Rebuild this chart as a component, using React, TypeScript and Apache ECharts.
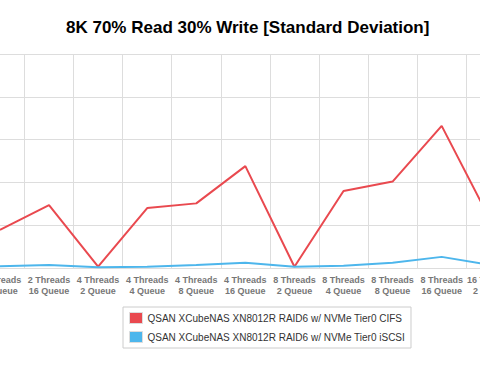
import React, { useEffect, useRef } from "react";
import * as echarts from "echarts";

const categories = [
  "2 Threads\n8 Queue",
  "2 Threads\n16 Queue",
  "4 Threads\n2 Queue",
  "4 Threads\n4 Queue",
  "4 Threads\n8 Queue",
  "4 Threads\n16 Queue",
  "8 Threads\n2 Queue",
  "8 Threads\n4 Queue",
  "8 Threads\n8 Queue",
  "8 Threads\n16 Queue",
  "16 Threads\n2 Queue",
];

const cifsValues = [0.89, 1.47, 0.03, 1.4, 1.51, 2.38, 0.03, 1.8, 2.02, 3.32, 1.1];
const iscsiValues = [0.04, 0.07, 0.02, 0.03, 0.07, 0.12, 0.03, 0.05, 0.12, 0.26, 0.07];

const seriesNames = [
  "QSAN XCubeNAS XN8012R RAID6 w/ NVMe Tier0 CIFS",
  "QSAN XCubeNAS XN8012R RAID6 w/ NVMe Tier0 iSCSI",
];

const titleText = "8K 70% Read 30% Write [Standard Deviation]";

const RED = "#e9494f";
const BLUE = "#4db6ec";
const FONT = "'Liberation Sans', Helvetica, Arial, sans-serif";

// chart canvas is wider than the visible window and shifted left by OFFSET
const OFFSET = 60;
const CHART_W = 600;
const CHART_H = 378;

export default function App() {
  const ref = useRef<HTMLDivElement>(null);

  useEffect(() => {
    if (!ref.current) return;
    const chart = echarts.init(ref.current, undefined, { renderer: "svg" });
    chart.setOption({
      animation: false,
      backgroundColor: "#ffffff",
      title: {
        text: titleText,
        left: 66 + OFFSET,
        top: 19,
        padding: 0,
        textStyle: {
          fontFamily: FONT,
          fontSize: 17,
          fontWeight: "bold",
          color: "#000000",
        },
      },
      legend: {
        orient: "vertical",
        left: 123 + OFFSET,
        top: 307,
        padding: [5, 6, 5, 6],
        borderColor: "#cccccc",
        borderWidth: 1,
        itemWidth: 13,
        itemHeight: 11,
        itemGap: 7,
        icon: "rect",
        itemStyle: { borderColor: "#dddddd", borderWidth: 1 },
        textStyle: { fontFamily: FONT, fontSize: 10, color: "#333333" },
        data: seriesNames,
      },
      grid: {
        left: OFFSET - 24.6,
        right: CHART_W - (OFFSET + 515.3),
        top: 54,
        bottom: 110,
        containLabel: false,
      },
      xAxis: {
        type: "category",
        data: categories,
        boundaryGap: true,
        axisLine: { show: true, lineStyle: { color: "#dddddd" } },
        axisTick: { show: false },
        splitLine: { show: true, lineStyle: { color: "#dddddd", width: 1 } },
        axisLabel: {
          interval: 0,
          fontFamily: FONT,
          fontSize: 9,
          fontWeight: "bold",
          color: "#777777",
          lineHeight: 11,
          margin: 6,
        },
      },
      yAxis: {
        type: "value",
        min: 0,
        max: 5,
        interval: 1,
        axisLabel: { show: false },
        axisLine: { show: false },
        axisTick: { show: false },
        splitLine: { show: true, lineStyle: { color: "#dddddd", width: 1 } },
      },
      series: [
        {
          name: seriesNames[0],
          type: "line",
          data: cifsValues,
          showSymbol: false,
          symbol: "none",
          color: RED,
          lineStyle: { color: RED, width: 2 },
        },
        {
          name: seriesNames[1],
          type: "line",
          data: iscsiValues,
          showSymbol: false,
          symbol: "none",
          color: BLUE,
          lineStyle: { color: BLUE, width: 2 },
        },
      ],
    });
    return () => chart.dispose();
  }, []);

  return (
    <div
      style={{
        position: "fixed",
        left: 0,
        top: 0,
        width: 480,
        height: 378,
        overflow: "hidden",
        background: "#ffffff",
      }}
    >
      <div
        ref={ref}
        style={{
          position: "absolute",
          left: -OFFSET,
          top: 0,
          width: CHART_W,
          height: CHART_H,
        }}
      />
    </div>
  );
}
